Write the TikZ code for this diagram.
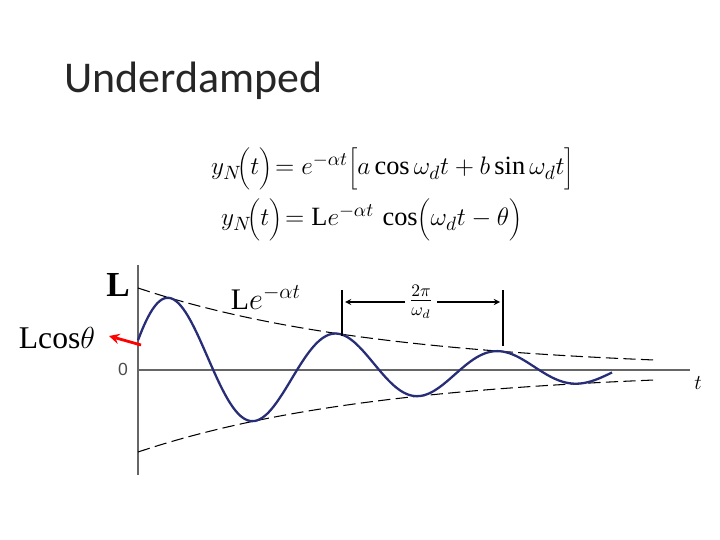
\documentclass[tikz,border=0pt]{standalone}
\usepackage{fontspec}
\setmainfont{Liberation Serif}
\newfontfamily\titlefont{Carlito}
\newfontfamily\axfont{Liberation Sans}
\begin{document}
\begin{tikzpicture}[x=0.02cm,y=-0.02cm,
  env/.style={black,dash pattern=on 7pt off 3pt,line width=0.6pt},
  wave/.style={color={rgb,255:red,40;green,45;blue,120},line width=1.3pt},
  ax/.style={gray!80!black,line width=0.6pt}]
\useasboundingbox (0,0) rectangle (720,540);
\node[anchor=base west,font=\titlefont\fontsize{25}{28}\selectfont,color=black!85] (title) at (58,93) {Underdamped};
\node[anchor=base west,font=\fontsize{15}{20}\selectfont] (eq1) at (205,175) {$y_N\!\bigg(t\bigg)\!=e^{-\alpha t}\bigg[a\cos\omega_d t+b\sin\omega_d t\bigg]$};
\node[anchor=base west,font=\fontsize{15}{20}\selectfont] (eq2) at (215,226) {$y_N\!\bigg(t\bigg)\!=\mathrm{L}e^{-\alpha t}\,\cos\!\bigg(\omega_d t-\theta\bigg)$};
\coordinate (o) at (138,370);
\coordinate (vt) at (138,265);
\coordinate (vb) at (138,475);
\coordinate (he) at (690,370);
\draw[ax] (vt) -- (vb);
\draw[ax] (o) -- (he);
\node[font=\fontsize{20}{20}\selectfont\bfseries] (L) at (118,285) {L};
\node[font=\axfont\fontsize{10}{10}\selectfont,gray!60!black] (zero) at (123,369) {0};
\node[font=\fontsize{12}{12}\selectfont\itshape] (t) at (698,383) {$t$};
\draw[env] plot[domain=138:655,samples=80] (\x,{370-82*exp(-0.00407*(\x-138))});
\draw[env] plot[domain=138:655,samples=80] (\x,{370+82*exp(-0.00407*(\x-138))});
\draw[wave] plot[domain=138:612,samples=200,smooth] (\x,{370-82*exp(-0.00407*(\x-138))*cos(deg(0.0365*(\x-138)+((\x-138)/482)^2-1.2))});
\node[font=\fontsize{17}{17}\selectfont] (Le) at (266,298) {L$e^{-\alpha t}$};
\node[font=\fontsize{18}{18}\selectfont] (Lc) at (57,338) {Lcos$\theta$};
\coordinate (pt) at (141,345);
\draw[red,line width=1.6pt,-stealth] (pt) -- (109,336);
\coordinate (m1t) at (342,290); \coordinate (m1b) at (342,336);
\coordinate (m2t) at (503,290); \coordinate (m2b) at (503,346);
\draw[line width=0.6pt] (m1t) -- (m1b);
\draw[line width=0.6pt] (m2t) -- (m2b);
\node[font=\fontsize{14}{14}\selectfont,inner sep=1pt] (per) at (421,302) {$\frac{2\pi}{\omega_d}$};
\draw[-stealth,line width=0.6pt] (per.west) ++(-2,0) -- (345,302);
\draw[-stealth,line width=0.6pt] (per.east) ++(2,0) -- (500,302);
\end{tikzpicture}
\end{document}
